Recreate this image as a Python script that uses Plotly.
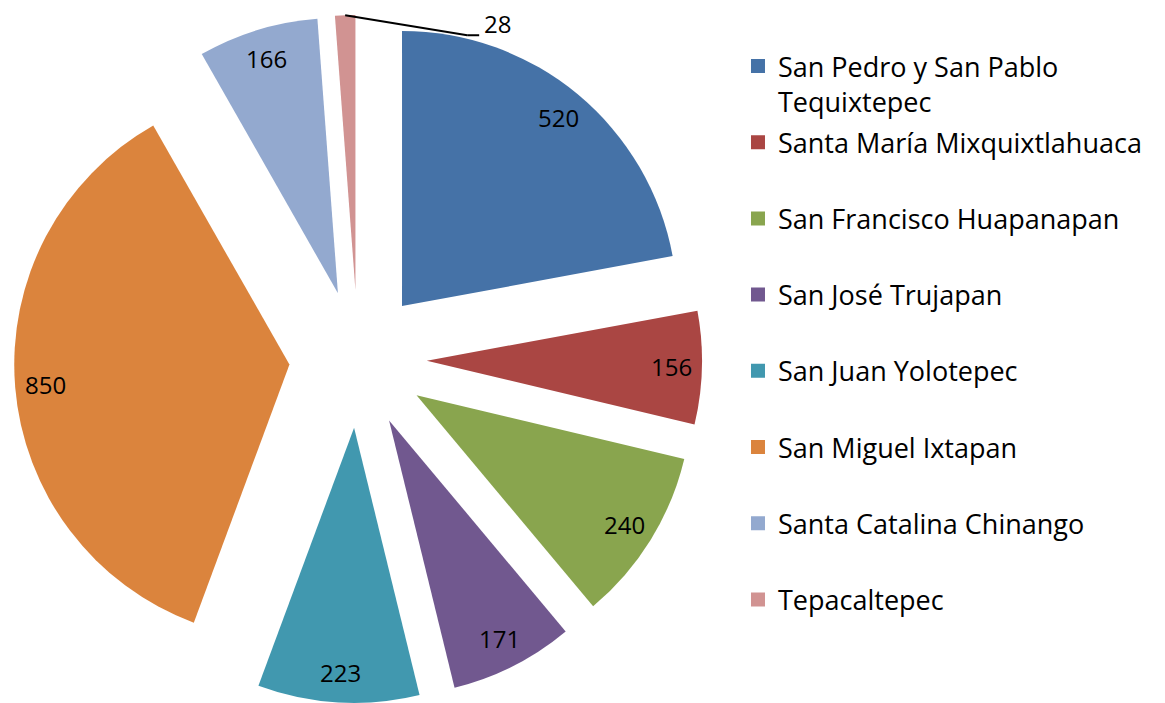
import math
import plotly.graph_objects as go

labels = ["San Pedro y San Pablo Tequixtepec", "Santa María Mixquixtlahuaca",
          "San Francisco Huapanapan", "San José Trujapan", "San Juan Yolotepec",
          "San Miguel Ixtapan", "Santa Catalina Chinango", "Tepacaltepec"]
legend_names = ["San Pedro y San Pablo<br>Tequixtepec", "Santa María Mixquixtlahuaca<br> ",
                "San Francisco Huapanapan<br> ", "San José Trujapan<br> ", "San Juan Yolotepec<br> ",
                "San Miguel Ixtapan<br> ", "Santa Catalina Chinango<br> ", "Tepacaltepec<br> "]
values = [520, 156, 240, 171, 223, 850, 166, 28]
colors = ["#4572A7", "#AA4643", "#89A54E", "#71588F", "#4198AF", "#DB843D", "#93A9CF", "#D19392"]
outside_label = [False] * 7 + [True]

FONT = "Open Sans"
W, H = 1165, 703
ML, MR, MT, MB = 0, 0, 7, 8
DOM_X = [0, 0.6009]
DOM_Y = [0, 1]
PULL = 0.25
LABEL_R = 0.89  # label distance from slice vertex, as a fraction of radius

fig = go.Figure()
fig.add_trace(go.Pie(
    labels=labels, values=values, sort=False, direction="clockwise", rotation=0,
    pull=[PULL] * len(values),
    marker=dict(colors=colors, line=dict(width=0)),
    textinfo="none",
    domain=dict(x=DOM_X, y=DOM_Y),
    showlegend=False, hoverinfo="label+value",
))

# geometry of the pie as plotly lays it out (used to place the value labels)
gw, gh = W - ML - MR, H - MT - MB
dw, dh = (DOM_X[1] - DOM_X[0]) * gw, (DOM_Y[1] - DOM_Y[0]) * gh
r_tot = min(dw, dh) / 2
R = r_tot / (1 + PULL)
cx = ML + (DOM_X[0] + DOM_X[1]) / 2 * gw
cy = MT + (1 - (DOM_Y[0] + DOM_Y[1]) / 2) * gh


def to_paper(px, py):
    return (px - ML) / gw, 1 - (py - MT) / gh


total = sum(values)
cum = 0
for v, out in zip(values, outside_label):
    mid = 2 * math.pi * (cum + v / 2) / total
    cum += v
    ux, uy = math.sin(mid), -math.cos(mid)
    if not out:
        d = (PULL + LABEL_R) * R
        x, y = to_paper(cx + d * ux, cy + d * uy)
        fig.add_annotation(x=x, y=y, xref="paper", yref="paper", text=str(v),
                           xanchor="center", yanchor="middle", showarrow=False,
                           font=dict(family=FONT, size=24, color="black"))
    else:
        d = (PULL + 1) * R
        sx, sy = cx + d * ux, cy + d * uy
        ex, ey = sx + 122, sy + 20
        x0, y0 = to_paper(sx, sy)
        x1, y1 = to_paper(ex, ey)
        x2, y2 = to_paper(ex + 12, ey)
        fig.add_shape(type="line", xref="paper", yref="paper", x0=x0, y0=y0, x1=x1, y1=y1,
                      line=dict(color="black", width=2))
        fig.add_shape(type="line", xref="paper", yref="paper", x0=x1, y0=y1, x1=x2, y1=y2,
                      line=dict(color="black", width=2))
        tx, ty = to_paper(ex + 15, ey - 12)
        fig.add_annotation(x=tx, y=ty, xref="paper", yref="paper", text=str(v),
                           xanchor="left", yanchor="middle", showarrow=False,
                           font=dict(family=FONT, size=24, color="black"))

for i, (name, col) in enumerate(zip(legend_names, colors)):
    fig.add_trace(go.Scatter(
        x=[None], y=[None], mode="markers", name=name,
        marker=dict(symbol="square", size=16, color=col, line=dict(width=2, color=col)),
        legendgroup=f"g{i}", showlegend=True,
    ))

fig.update_layout(
    width=W, height=H,
    margin=dict(l=ML, r=MR, t=MT, b=MB, autoexpand=False),
    paper_bgcolor="white", plot_bgcolor="white",
    xaxis=dict(visible=False), yaxis=dict(visible=False),
    legend=dict(x=0.6266, y=0.9608, xref="paper", yref="paper",
                xanchor="left", yanchor="top",
                font=dict(family=FONT, size=27, color="black"),
                tracegroupgap=3, valign="top", itemsizing="constant"),
    font=dict(family=FONT),
)

fig.write_html("out.html")
